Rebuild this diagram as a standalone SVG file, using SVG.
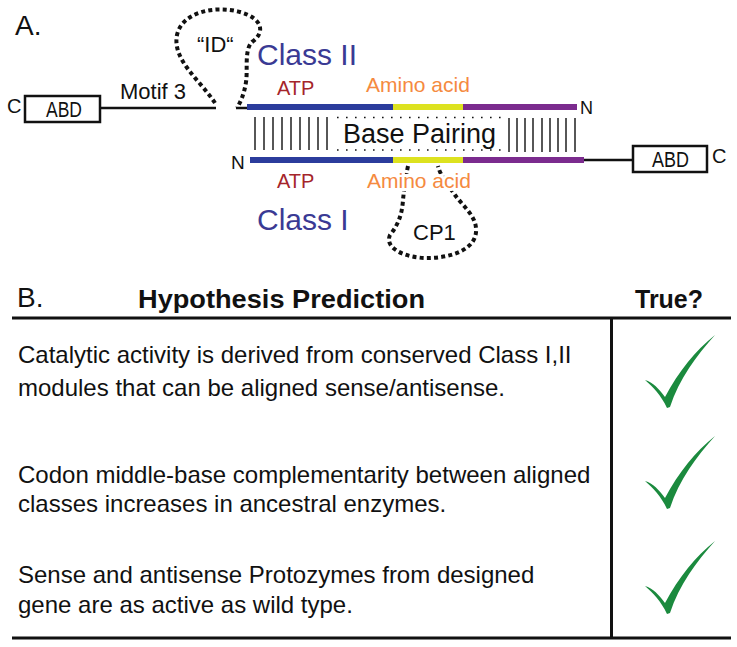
<svg xmlns="http://www.w3.org/2000/svg" width="737" height="647" viewBox="0 0 737 647">
<style>
text{font-family:"Liberation Sans",Arial,sans-serif;fill:#111}
.box{fill:#fff;stroke:#111;stroke-width:2.5}
.ln{stroke:#111;stroke-width:2.5;fill:none}
.dots{stroke:#111;stroke-width:4;stroke-dasharray:4 3.2;fill:none}
.fine{stroke:#111;stroke-width:1.4;fill:none}
.bpdot{stroke:#111;stroke-width:1.6;stroke-dasharray:1.6 7.4;fill:none}
.blue{stroke:#2b3c9c;stroke-width:6}
.yel{stroke:#dde21f;stroke-width:6}
.pur{stroke:#7b2b8e;stroke-width:6}
.atp{fill:#a5252b;font-size:20px}
.aa{fill:#f58a40;font-size:21px}
.cls{fill:#3a3a94;font-size:30px}
.body{font-size:24px}
.rule{stroke:#111;stroke-width:3}
.chk{fill:#1b8a3e}
</style>
<defs>
<path id="check" d="M-22,-27 C-14,-25 -8,-18 -2,-10 C12,-36 28,-56 48,-72 C30,-52 12,-28 3,0 L0,1 C-6,-12 -14,-20 -22,-27 Z"/>
</defs>

<text x="15" y="35" font-size="28">A.</text>

<g id="connectors">
<line class="ln" x1="100" y1="108" x2="216" y2="108"/>
<line class="ln" x1="584" y1="160" x2="633" y2="160"/>
<path class="dots" d="M215,103 C200,80 172,60 177,35 C182,12 215,5 240,12 C262,18 266,32 252,42 C244,50 248,70 246,82 C244,95 240,103 237,108"/>
<line class="ln" x1="236" y1="108" x2="248" y2="108"/>
<path class="dots" d="M408,166 C405,180 404,190 403,200 C402,215 398,225 390,235 C384,248 405,258 427,258 C450,258 478,250 476,228 C475,215 462,205 455,195 C448,185 440,175 438,166"/>
</g>

<g id="abd-left">
<rect class="box" x="25" y="96" width="75" height="26"/>
<text x="46" y="117" font-size="22" textLength="36" lengthAdjust="spacingAndGlyphs">ABD</text>
<text x="7" y="113" font-size="20">C</text>
</g>
<text x="120" y="99" font-size="22">Motif 3</text>
<text x="197" y="52" font-size="22">“ID“</text>

<g id="class-ii">
<line class="blue" x1="247" y1="107" x2="393" y2="107"/>
<line class="yel" x1="393" y1="107" x2="463" y2="107"/>
<line class="pur" x1="463" y1="107" x2="577" y2="107"/>
<text x="580" y="114" font-size="18">N</text>
<text class="atp" x="277" y="95">ATP</text>
<text class="aa" x="366" y="92">Amino acid</text>
<text class="cls" x="257" y="65">Class II</text>
</g>

<g id="base-pairing">
<path class="fine" d="M255,117V150M264,117V150M273,117V150M282,117V150M291,117V150M300,117V150M309,117V150M318,117V150M327,117V150"/>
<path class="fine" d="M509,118V152M517,118V152M525,118V152M533,118V152M542,118V152M550,118V152M558,118V152M566,118V152M575,118V152"/>
<line class="bpdot" x1="337" y1="117.5" x2="506" y2="117.5"/>
<line class="bpdot" x1="337" y1="150" x2="506" y2="150"/>
<text x="343" y="143" font-size="27">Base Pairing</text>
</g>

<g id="class-i">
<line class="blue" x1="250" y1="160" x2="393" y2="160"/>
<line class="yel" x1="393" y1="160" x2="463" y2="160"/>
<line class="pur" x1="463" y1="160" x2="584" y2="160"/>
<text x="231" y="169" font-size="19">N</text>
<text class="atp" x="277" y="188">ATP</text>
<text class="aa" x="367" y="188" stroke="#fff" stroke-width="6" paint-order="stroke">Amino acid</text>
<text class="cls" x="257" y="230">Class I</text>
</g>

<g id="cp1">
<text x="413" y="240" font-size="22">CP1</text>
</g>

<g id="abd-right">
<rect class="box" x="633" y="146" width="74" height="26"/>
<text x="652" y="167" font-size="22" textLength="37" lengthAdjust="spacingAndGlyphs">ABD</text>
<text x="712" y="163" font-size="20">C</text>
</g>

<g id="table">
<text x="17" y="307" font-size="28">B.</text>
<text x="138" y="308" font-size="25" font-weight="bold" textLength="287" lengthAdjust="spacingAndGlyphs">Hypothesis Prediction</text>
<text x="635" y="308" font-size="25" font-weight="bold" textLength="68" lengthAdjust="spacingAndGlyphs">True?</text>
<line class="rule" x1="12" y1="318" x2="731" y2="318"/>
<line class="rule" x1="611.5" y1="318" x2="611.5" y2="638"/>
<line class="rule" x1="12" y1="638" x2="731" y2="638"/>
<text class="body" x="18" y="363">Catalytic activity is derived from conserved Class I,II</text>
<text class="body" x="18" y="396">modules that can be aligned sense/antisense.</text>
<text class="body" x="18" y="483">Codon middle-base complementarity between aligned</text>
<text class="body" x="18" y="512">classes increases in ancestral enzymes.</text>
<text class="body" x="18" y="583">Sense and antisense Protozymes from designed</text>
<text class="body" x="18" y="613">gene are as active as wild type.</text>
<use href="#check" class="chk" x="667" y="407"/>
<use href="#check" class="chk" x="667" y="508"/>
<use href="#check" class="chk" x="667" y="613"/>
</g>
</svg>
